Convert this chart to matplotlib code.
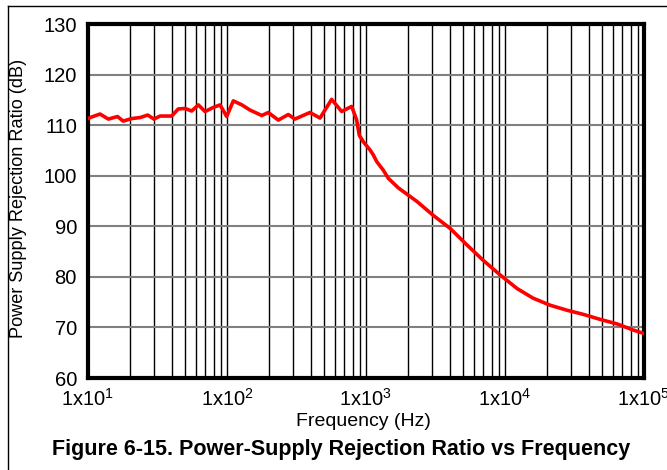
import numpy as np
import matplotlib.pyplot as plt
from matplotlib.lines import Line2D
from matplotlib.ticker import LogLocator, NullFormatter

plt.rcParams['font.family'] = ['Liberation Sans', 'DejaVu Sans']
plt.rcParams['mathtext.fontset'] = 'custom'
plt.rcParams['mathtext.rm'] = 'Liberation Sans'

# PSRR curve
freq = [10.0, 10.6, 12.2, 14.0, 16.3, 17.9, 20.6, 23.7, 26.9, 29.8, 33.0, 40.0,
        44.6, 49.9, 55.7, 62.2, 69.5, 79.7, 89.1, 99.5, 111, 128, 146, 178,
        198, 234, 276, 308, 395, 467, 566, 668, 789, 857, 895, 957, 1069,
        1129, 1194, 1331, 1446, 1707, 2328, 3034, 4022, 5330, 6950, 9205,
        12200, 15890, 21080, 27930, 36390, 48230, 63940, 83370, 100000]
psrr = [111.3, 111.6, 112.2, 111.2, 111.7, 110.8, 111.3, 111.5, 112.0, 111.2,
        111.8, 111.8, 113.2, 113.3, 112.8, 114.0, 112.7, 113.5, 114.0, 111.7,
        114.8, 114.0, 113.0, 111.9, 112.5, 111.0, 112.1, 111.2, 112.5, 111.4,
        115.1, 112.7, 113.7, 111.0, 108.0, 106.7, 105.1, 104.1, 102.8, 101.1,
        99.5, 97.6, 94.9, 92.2, 89.6, 86.3, 83.3, 80.4, 77.7, 75.8, 74.4, 73.4,
        72.6, 71.6, 70.7, 69.5, 68.8]

xticks = [1e1, 1e2, 1e3, 1e4, 1e5]
xticklabels = ['1x10$^{1}$', '1x10$^{2}$', '1x10$^{3}$', '1x10$^{4}$', '1x10$^{5}$']
yticks = [60, 70, 80, 90, 100, 110, 120, 130]

fig = plt.figure(figsize=(6.67, 4.70), dpi=100)
ax = fig.add_axes([88 / 667, 1 - 378 / 470, (644 - 88) / 667, (378 - 24) / 470])

ax.plot(freq, psrr, color='#ff0000', lw=2.6, zorder=3,
        solid_joinstyle='round', solid_capstyle='round')

ax.set_xscale('log')
ax.set_xlim(10, 1e5)
ax.set_ylim(60, 130)
ax.set_xticks(xticks)
ax.set_xticklabels(xticklabels)
ax.xaxis.set_minor_locator(LogLocator(base=10, subs=np.arange(2, 10)))
ax.xaxis.set_minor_formatter(NullFormatter())
ax.set_yticks(yticks)

ax.grid(True, which='major', axis='x', color='black', lw=1)
ax.grid(True, which='minor', axis='x', color='black', lw=1)
ax.grid(True, which='major', axis='y', color='#808080', lw=1.5)
ax.tick_params(which='both', length=0, labelsize=14.5)
ax.tick_params(axis='x', pad=7)
ax.tick_params(axis='y', pad=8)
for s in ax.spines.values():
    s.set_linewidth(3)

fig.text(363 / 667, 1 - 422 / 470, 'Frequency (Hz)', ha='center', va='center', fontsize=14)
fig.text(19 / 667, 1 - 198 / 470, 'Power Supply Rejection Ratio (dB)', ha='center', va='center',
         rotation=90, fontsize=13.1)

fig.text(341 / 667, 1 - 450 / 470, 'Figure 6-15. Power-Supply Rejection Ratio vs Frequency',
         ha='center', va='center', fontsize=15.5, fontweight='bold')

# outer frame lines
fig.add_artist(Line2D([8 / 667, 1], [1 - 6 / 470, 1 - 6 / 470], color='black', lw=1))
fig.add_artist(Line2D([8 / 667, 8 / 667], [0, 1 - 6 / 470], color='black', lw=1))

fig.savefig('out.png', dpi=100)
